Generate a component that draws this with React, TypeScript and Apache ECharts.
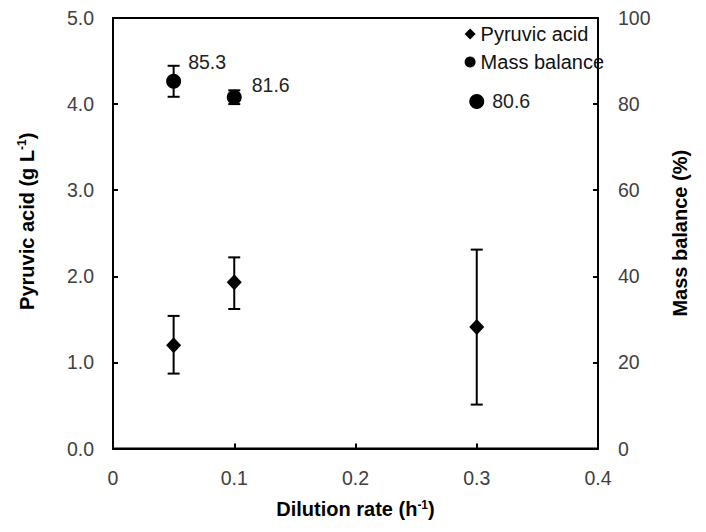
import React, { useEffect, useRef } from "react";
import * as echarts from "echarts";

const dilutionRates = [0.05, 0.1, 0.3];
const pyruvicAcid = [1.2, 1.93, 1.41];
const pyruvicLow = [0.87, 1.62, 0.51];
const pyruvicHigh = [1.54, 2.22, 2.31];
const massBalance = [85.3, 81.6, 80.6];
const massLow = [81.7, 80.0, 80.6];
const massHigh = [88.9, 83.2, 80.6];
const xTicks = [0, 0.1, 0.2, 0.3, 0.4];

const FONT = "'Liberation Sans', Arial, sans-serif";

export default function App() {
  const ref = useRef<HTMLDivElement>(null);
  useEffect(() => {
    if (!ref.current) return;
    const chart = echarts.init(ref.current, undefined, { renderer: "svg" });

    const errRender = (params: any, api: any) => {
      const x = api.value(0);
      const lo = api.value(1);
      const hi = api.value(2);
      const pHi = api.coord([x, hi]);
      const pLo = api.coord([x, lo]);
      if (Math.abs(pHi[1] - pLo[1]) < 1) return { type: "group", children: [] };
      const w = 6;
      const style = { stroke: "#000", lineWidth: 2 };
      return {
        type: "group",
        children: [
          { type: "line", shape: { x1: pHi[0], y1: pHi[1], x2: pLo[0], y2: pLo[1] }, style },
          { type: "line", shape: { x1: pHi[0] - w, y1: pHi[1], x2: pHi[0] + w, y2: pHi[1] }, style },
          { type: "line", shape: { x1: pLo[0] - w, y1: pLo[1], x2: pLo[0] + w, y2: pLo[1] }, style },
        ],
      };
    };

    const labelOffsets = [
      [2, -19],
      [5, -12],
      [3, -1],
    ];

    const titleRich = {
      t: { fontSize: 20, fontWeight: "bold", color: "#000", fontFamily: FONT },
      s: { fontSize: 12, fontWeight: "bold", color: "#000", fontFamily: FONT, verticalAlign: "top", padding: [0, 0, 9, 0] },
    };

    chart.setOption({
      animation: false,
      textStyle: { fontFamily: FONT },
      grid: {
        left: 101,
        right: 86,
        top: 9,
        bottom: 71,
        show: true,
        borderColor: "#000",
        borderWidth: 2,
      },
      legend: {
        orient: "vertical",
        right: 94,
        top: 16,
        padding: 0,
        itemWidth: 11,
        itemHeight: 11,
        itemGap: 8,
        textStyle: { fontSize: 20, color: "#111", fontFamily: FONT },
        data: [
          { name: "Pyruvic acid", icon: "diamond" },
          { name: "Mass balance", icon: "circle" },
        ],
      },
      xAxis: {
        type: "value",
        min: 0,
        max: 0.4,
        interval: 0.1,
        name: "{t|Dilution rate (h}{s|-1}{t|)}",
        nameLocation: "middle",
        nameGap: 50,
        nameTextStyle: { rich: titleRich },
        axisLine: { show: true, lineStyle: { color: "#000", width: 2 } },
        axisTick: { show: true, inside: true, length: 5, lineStyle: { color: "#000", width: 2 } },
        axisLabel: {
          fontSize: 19.5,
          color: "#404040",
          margin: 19,
          formatter: (v: number) => {
            const i = xTicks.findIndex((t) => Math.abs(t - v) < 1e-9);
            return i >= 0 ? String(xTicks[i]) : "";
          },
        },
        splitLine: { show: false },
      },
      yAxis: [
        {
          type: "value",
          min: 0,
          max: 5,
          interval: 1,
          position: "left",
          name: "{t|Pyruvic acid (g L}{s|-1}{t|)}",
          nameLocation: "middle",
          nameRotate: 90,
          nameGap: 76,
          nameTextStyle: { rich: titleRich, padding: [0, 0, 0, 24] },
          axisLine: { show: true, lineStyle: { color: "#000", width: 2 } },
          axisTick: { show: true, inside: true, length: 5, lineStyle: { color: "#000", width: 2 } },
          axisLabel: { fontSize: 19.5, color: "#404040", margin: 19, formatter: (v: number) => v.toFixed(1) },
          splitLine: { show: false },
        },
        {
          type: "value",
          min: 0,
          max: 100,
          interval: 20,
          position: "right",
          name: "Mass balance (%)",
          nameLocation: "middle",
          nameRotate: 90,
          nameGap: 72,
          nameTextStyle: { fontSize: 20, fontWeight: "bold", color: "#000", fontFamily: FONT },
          axisLine: { show: true, lineStyle: { color: "#000", width: 2 } },
          axisTick: { show: true, inside: true, length: 5, lineStyle: { color: "#000", width: 2 } },
          axisLabel: { fontSize: 19.5, color: "#404040", margin: 20 },
          splitLine: { show: false },
        },
      ],
      series: [
        {
          name: "Pyruvic acid",
          type: "scatter",
          yAxisIndex: 0,
          symbol: "diamond",
          symbolSize: [15, 16],
          itemStyle: { color: "#000", opacity: 1 },
          data: dilutionRates.map((x, i) => [x, pyruvicAcid[i]]),
          z: 3,
        },
        {
          name: "Pyruvic acid err",
          type: "custom",
          yAxisIndex: 0,
          renderItem: errRender,
          data: dilutionRates.map((x, i) => [x, pyruvicLow[i], pyruvicHigh[i]]),
          z: 2,
        },
        {
          name: "Mass balance",
          type: "scatter",
          yAxisIndex: 1,
          symbol: "circle",
          symbolSize: 15,
          itemStyle: { color: "#000", opacity: 1 },
          data: dilutionRates.map((x, i) => ({
            value: [x, massBalance[i]],
            label: {
              show: true,
              position: "right",
              offset: labelOffsets[i],
              formatter: massBalance[i].toFixed(1),
              fontSize: 19.5,
              color: "#222",
              fontFamily: FONT,
            },
          })),
          z: 3,
        },
        {
          name: "Mass balance err",
          type: "custom",
          yAxisIndex: 1,
          renderItem: errRender,
          data: dilutionRates.map((x, i) => [x, massLow[i], massHigh[i]]),
          z: 2,
        },
      ],
    });
    return () => chart.dispose();
  }, []);
  return <div ref={ref} style={{ width: 690, height: 516 }} />;
}
